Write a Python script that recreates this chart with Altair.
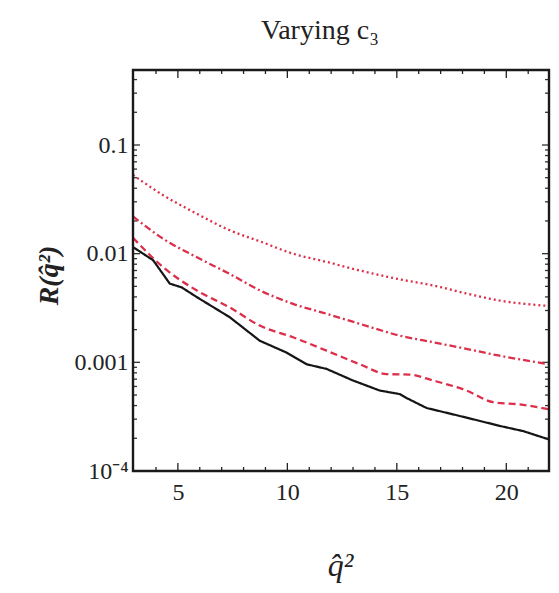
import altair as alt
import pandas as pd

# ---- data ----
q_black = [2.95, 3.87, 4.63, 5.17, 5.85, 7.37, 8.74, 9.96, 10.88, 11.79, 13.0, 14.22, 15.14, 15.44, 16.36, 18.18, 19.70, 20.77, 21.95]
r_black = [0.0115, 0.0087, 0.0053, 0.0049, 0.0040, 0.0026, 0.00158, 0.00123, 0.00096, 0.00087, 0.00068, 0.00055, 0.00051, 0.00047, 0.00038, 0.00031, 0.00026, 0.000233, 0.000195]

q_dashed = [2.95, 4.33, 5.85, 7.37, 8.74, 10.26, 11.79, 13.31, 14.53, 15.59, 16.66, 18.18, 19.40, 20.62, 21.95]
r_dashed = [0.0140, 0.0075, 0.0046, 0.0032, 0.00218, 0.0017, 0.00128, 0.00096, 0.00078, 0.00077, 0.00068, 0.00055, 0.00043, 0.00041, 0.00037]

q_dashdot = [2.95, 4.33, 5.85, 7.37, 8.74, 10.26, 11.79, 13.31, 15.14, 16.66, 18.18, 19.70, 21.95]
r_dashdot = [0.0220, 0.0137, 0.0093, 0.0065, 0.0046, 0.00345, 0.0028, 0.00226, 0.00176, 0.00153, 0.00133, 0.00115, 0.00096]

q_dotted = [2.95, 4.33, 5.85, 7.37, 8.74, 10.26, 11.79, 13.31, 15.14, 16.66, 18.18, 19.70, 21.95]
r_dotted = [0.053, 0.0345, 0.0234, 0.0164, 0.0130, 0.0100, 0.0084, 0.0070, 0.0058, 0.0051, 0.0043, 0.0037, 0.0033]

series_names = ["black", "dashed", "dashdot", "dotted"]
series_colors = ["#151515", "#dc2f4a", "#dc2f4a", "#dc2f4a"]
series_dash = [[1, 0], [7, 4], [7, 3, 2, 3], [2, 3]]

x_major = [5, 10, 15, 20]
x_minor = [4, 6, 7, 8, 9, 11, 12, 13, 14, 16, 17, 18, 19, 21]
y_major = [0.0001, 0.001, 0.01, 0.1]
y_minor = [m * 10.0 ** e for e in (-4, -3, -2) for m in range(2, 10)] + [0.2, 0.3, 0.4]

X_DOMAIN = [2.95, 21.95]
Y_DOMAIN = [0.0001, 0.49]
W, H = 416, 401
FONT = "Liberation Serif"

rows = []
for name, qs, rs in [("black", q_black, r_black), ("dashed", q_dashed, r_dashed),
                     ("dashdot", q_dashdot, r_dashdot), ("dotted", q_dotted, r_dotted)]:
    for qv, rv in zip(qs, rs):
        rows.append({"series": name, "q": qv, "R": rv})
lines_df = pd.DataFrame(rows)

xscale = alt.Scale(domain=X_DOMAIN, nice=False, zero=False)
yscale = alt.Scale(type="log", domain=Y_DOMAIN, nice=False)

xaxis = alt.Axis(values=x_major, ticks=False, domain=False, grid=False,
                 labelFont=FONT, labelFontSize=24, labelColor="#222", labelPadding=9,
                 title="q̂²", titleFont=FONT, titleFontStyle="italic", titleFontWeight="normal",
                 titleFontSize=32, titleColor="#222", titleX=207, titleY=94, titleAlign="center",
                 titleBaseline="middle")
yaxis = alt.Axis(values=y_major, ticks=False, domain=False, grid=False,
                 labelFont=FONT, labelFontSize=24, labelColor="#222", labelPadding=5,
                 labelExpr="datum.value < 0.0005 ? '10⁻⁴' : datum.value < 0.005 ? '0.001' : datum.value < 0.05 ? '0.01' : '0.1'",
                 title="R(q̂²)", titleFont=FONT, titleFontStyle="italic", titleFontWeight="bold",
                 titleFontSize=28, titleColor="#222", titleX=-84, titleY=205, titleAngle=270,
                 titleAlign="center", titleBaseline="middle")

color_enc = alt.Color("series:N", scale=alt.Scale(domain=series_names, range=series_colors), legend=None)
dash_enc = alt.StrokeDash("series:N", scale=alt.Scale(domain=series_names, range=series_dash), legend=None)

red_lines = alt.Chart(lines_df[lines_df.series != "black"]).mark_line(
    strokeWidth=2.3, interpolate="monotone").encode(
    x=alt.X("q:Q", scale=xscale, axis=xaxis),
    y=alt.Y("R:Q", scale=yscale, axis=yaxis),
    color=color_enc, strokeDash=dash_enc, detail="series:N",
)
black_line = alt.Chart(lines_df[lines_df.series == "black"]).mark_line(
    strokeWidth=2.2, interpolate="linear").encode(
    x=alt.X("q:Q", scale=xscale, axis=xaxis),
    y=alt.Y("R:Q", scale=yscale, axis=yaxis),
    color=color_enc, strokeDash=dash_enc,
)


def xticks(vals, y0, y1):
    df = pd.DataFrame({"q": vals})
    return alt.Chart(df).mark_rule(color="#222", strokeWidth=1.3).encode(
        x=alt.X("q:Q", scale=xscale, axis=xaxis), y=alt.value(y0), y2=alt.value(y1))


def yticks(vals, x0, x1):
    df = pd.DataFrame({"R": vals})
    return alt.Chart(df).mark_rule(color="#333", strokeWidth=1.3).encode(
        y=alt.Y("R:Q", scale=yscale, axis=yaxis), x=alt.value(x0), x2=alt.value(x1))


frame_df = pd.DataFrame({"edge": ["frame"]})
frame = alt.Chart(frame_df).mark_rect(fill=None, stroke="#1a1a1a", strokeWidth=2.4).encode(
    x=alt.value(0), x2=alt.value(W), y=alt.value(0), y2=alt.value(H))

layers = [
    xticks(x_major, H, H - 8), xticks(x_minor, H, H - 4),
    xticks(x_major, 0, 8), xticks(x_minor, 0, 4),
    yticks(y_major, 0, 7), yticks(y_minor, 0, 4),
    yticks(y_major, W, W - 7), yticks(y_minor, W, W - 4),
    red_lines, black_line, frame,
]

chart = alt.layer(*layers).properties(
    width=W, height=H,
    title=alt.TitleParams("Varying c₃", font=FONT, fontSize=28, fontWeight="normal",
                          color="#222", anchor="middle", dx=-21, offset=24),
    autosize=alt.AutoSizeParams(type="none"),
    padding={"left": 133, "top": 70, "right": 10, "bottom": 122},
).configure_view(stroke=None).configure(background="white")

chart.save("out.html", embed_options={"renderer": "svg", "actions": False})
